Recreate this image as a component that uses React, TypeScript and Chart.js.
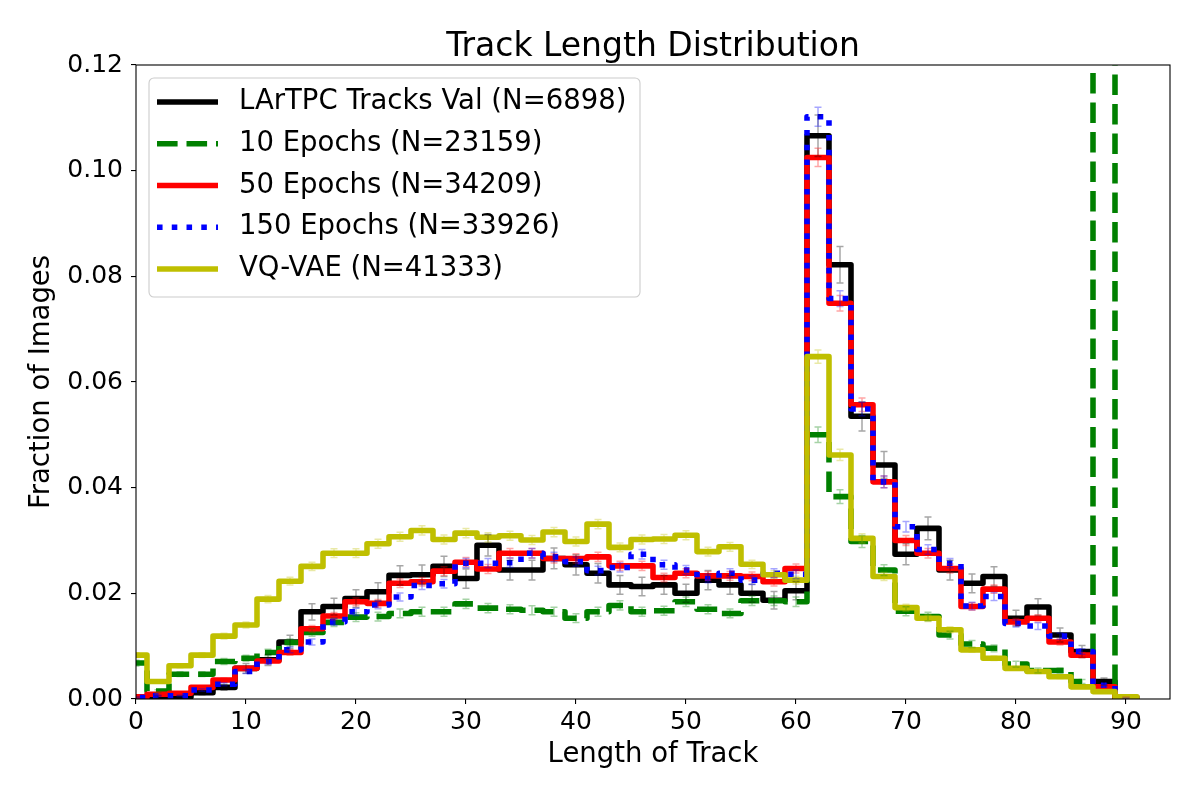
import React, { useEffect, useRef } from 'react';
import Chart from 'chart.js/auto';

// bin centres of the track-length histogram (bins are 2 units wide)
const binCenters = [
  0, 2, 4, 6, 8, 10, 12, 14, 16, 18, 20, 22, 24, 26, 28, 30, 32, 34, 36, 38, 40, 42, 44,
  46, 48, 50, 52, 54, 56, 58, 60, 62, 64, 66, 68, 70, 72, 74, 76, 78, 80, 82, 84, 86, 88, 90,
];
const binWidth = 2;

const chartTitle = 'Track Length Distribution';
const seriesNames = ['LArTPC Tracks Val', '10 Epochs', '50 Epochs', '150 Epochs', 'VQ-VAE'];
const sampleCounts = [6898, 23159, 34209, 33926, 41333];

const valTracks = [
  0.0002, 0.0004, 0.0004, 0.0012, 0.0022, 0.0058, 0.0074, 0.0108, 0.0165, 0.0175,
  0.0190, 0.0203, 0.0234, 0.0235, 0.0251, 0.0228, 0.0291, 0.0244, 0.0244, 0.0266,
  0.0254, 0.0238, 0.0216, 0.0213, 0.0216, 0.0200, 0.0225, 0.0216, 0.0200, 0.0187,
  0.0205, 0.1066, 0.0822, 0.0535, 0.0443, 0.0274, 0.0323, 0.0244, 0.0219, 0.0232,
  0.0153, 0.0174, 0.0121, 0.0090, 0.0033, 0.0000,
];
const epochs10 = [
  0.0068, 0.0015, 0.0047, 0.0047, 0.0071, 0.0077, 0.0088, 0.0107, 0.0126, 0.0145,
  0.0155, 0.0156, 0.0162, 0.0165, 0.0165, 0.0180, 0.0172, 0.0170, 0.0168, 0.0165,
  0.0153, 0.0165, 0.0177, 0.0165, 0.0167, 0.0184, 0.0170, 0.0162, 0.0186, 0.0186,
  0.0184, 0.0500, 0.0383, 0.0298, 0.0244, 0.0166, 0.0156, 0.0121, 0.0104, 0.0096,
  0.0066, 0.0054, 0.0054, 0.0033, 0.3600, 0.0000,
];
const epochs50 = [
  0.0004, 0.0009, 0.0011, 0.0022, 0.0036, 0.0058, 0.0072, 0.0088, 0.0133, 0.0157,
  0.0184, 0.0181, 0.0219, 0.0222, 0.0242, 0.0259, 0.0246, 0.0276, 0.0276, 0.0266,
  0.0266, 0.0269, 0.0252, 0.0252, 0.0230, 0.0238, 0.0233, 0.0233, 0.0232, 0.0222,
  0.0247, 0.1025, 0.0749, 0.0557, 0.0411, 0.0300, 0.0276, 0.0247, 0.0175, 0.0208,
  0.0146, 0.0153, 0.0108, 0.0083, 0.0023, 0.0003,
];
const epochs150 = [
  0.0003, 0.0006, 0.0006, 0.0017, 0.0028, 0.0052, 0.0071, 0.0093, 0.0108, 0.0146,
  0.0165, 0.0178, 0.0193, 0.0215, 0.0218, 0.0257, 0.0257, 0.0258, 0.0276, 0.0269,
  0.0260, 0.0243, 0.0249, 0.0274, 0.0254, 0.0244, 0.0228, 0.0238, 0.0225, 0.0238,
  0.0236, 0.1102, 0.0758, 0.0549, 0.0411, 0.0326, 0.0283, 0.0257, 0.0176, 0.0194,
  0.0143, 0.0138, 0.0119, 0.0090, 0.0026, 0.0002,
];
const vqvae = [
  0.0083, 0.0033, 0.0063, 0.0083, 0.0119, 0.0140, 0.0189, 0.0223, 0.0251, 0.0276,
  0.0276, 0.0294, 0.0307, 0.0319, 0.0302, 0.0314, 0.0306, 0.0309, 0.0301, 0.0316,
  0.0298, 0.0331, 0.0287, 0.0302, 0.0303, 0.0310, 0.0279, 0.0288, 0.0255, 0.0235,
  0.0225, 0.0648, 0.0462, 0.0304, 0.0232, 0.0173, 0.0153, 0.0131, 0.0093, 0.0077,
  0.0058, 0.0052, 0.0042, 0.0023, 0.0014, 0.0004,
];

const xTickStep = 10;
const yTickStep = 0.02;

const seriesValues = [valTracks, epochs10, epochs50, epochs150, vqvae];
const lineColors = ['#000000', '#008000', '#ff0000', '#0000ff', '#bfbf00'];
const errColors = [
  'rgba(0,0,0,0.35)',
  'rgba(0,128,0,0.35)',
  'rgba(255,0,0,0.35)',
  'rgba(0,0,255,0.35)',
  'rgba(191,191,0,0.35)',
];
const LW = 5.56;
const lineDashes = [[], [20.6, 8.9], [], [5.56, 9.2], []];
const FONT = '"DejaVu Sans", sans-serif';

// outline of a step histogram: up from the first edge, across each bin, down at the last edge
function stepPoints(values: number[]) {
  const half = binWidth / 2;
  const pts = [{ x: binCenters[0] - half, y: 0 }];
  values.forEach((v, i) => {
    pts.push({ x: binCenters[i] - half, y: v });
    pts.push({ x: binCenters[i] + half, y: v });
  });
  pts.push({ x: binCenters[binCenters.length - 1] + half, y: 0 });
  return pts;
}

const errorBarPlugin = {
  id: 'errorBars',
  afterDatasetsDraw(chart: any) {
    const { ctx, chartArea, scales } = chart;
    const xs = scales.x;
    const ys = scales.y;
    ctx.save();
    ctx.beginPath();
    ctx.rect(chartArea.left, chartArea.top, chartArea.width, chartArea.height);
    ctx.clip();
    ctx.lineWidth = 1.5;
    seriesValues.forEach((vals, si) => {
      ctx.strokeStyle = errColors[si];
      vals.forEach((v, i) => {
        if (v <= 0) return;
        // poisson uncertainty of a normalised bin
        const err = Math.sqrt(v / sampleCounts[si]);
        const px = xs.getPixelForValue(binCenters[i]);
        const lo = ys.getPixelForValue(v - err);
        const hi = ys.getPixelForValue(v + err);
        ctx.beginPath();
        ctx.moveTo(px, lo);
        ctx.lineTo(px, hi);
        ctx.moveTo(px - 3.5, lo);
        ctx.lineTo(px + 3.5, lo);
        ctx.moveTo(px - 3.5, hi);
        ctx.lineTo(px + 3.5, hi);
        ctx.stroke();
      });
    });
    ctx.restore();

    // spines on top of the lines
    ctx.save();
    ctx.strokeStyle = '#000';
    ctx.lineWidth = 1.1;
    ctx.strokeRect(chartArea.left, chartArea.top, chartArea.width, chartArea.height);
    ctx.restore();
  },
};

// title centred over the axes, legend in the upper left of the axes
const legendPlugin = {
  id: 'insideLegend',
  afterDraw(chart: any) {
    const { ctx, chartArea } = chart;
    ctx.save();
    ctx.fillStyle = '#000';
    ctx.font = `33px ${FONT}`;
    ctx.textAlign = 'center';
    ctx.textBaseline = 'alphabetic';
    ctx.fillText(chartTitle, (chartArea.left + chartArea.right) / 2, chartArea.top - 9);

    const left = chartArea.left + 13;
    const top = chartArea.top + 13;
    ctx.fillStyle = 'rgba(255,255,255,0.8)';
    ctx.strokeStyle = '#cccccc';
    ctx.lineWidth = 1.1;
    ctx.beginPath();
    ctx.roundRect(left, top, 491, 219, 5);
    ctx.fill();
    ctx.stroke();
    chart.data.datasets.forEach((ds: any, i: number) => {
      const yy = top + 24 + i * 41.75;
      ctx.setLineDash(ds.borderDash || []);
      ctx.lineWidth = ds.borderWidth;
      ctx.strokeStyle = ds.borderColor;
      ctx.lineCap = 'butt';
      ctx.beginPath();
      ctx.moveTo(left + 8, yy);
      ctx.lineTo(left + 69, yy);
      ctx.stroke();
      ctx.setLineDash([]);
      ctx.fillStyle = '#000';
      ctx.font = `27.5px ${FONT}`;
      ctx.textBaseline = 'middle';
      ctx.textAlign = 'left';
      ctx.fillText(ds.label, left + 90, yy);
    });
    ctx.restore();
  },
};

const TrackLengthChart: React.FC = () => {
  const chartRef = useRef<Chart<'line'>>();
  const canvasRef = useRef<HTMLCanvasElement>(null);

  useEffect(() => {
    const canvas = canvasRef.current;
    if (!canvas) return;
    if (chartRef.current) chartRef.current.destroy();

    Chart.defaults.font.family = FONT;
    Chart.defaults.color = '#000';

    const datasets = seriesValues.map((vals, i) => ({
      label: `${seriesNames[i]} (N=${sampleCounts[i]})`,
      data: stepPoints(vals),
      borderColor: lineColors[i],
      backgroundColor: lineColors[i],
      borderWidth: LW,
      borderDash: lineDashes[i],
      borderJoinStyle: 'round' as const,
      pointRadius: 0,
      tension: 0,
      fill: false,
      clip: 0,
      order: seriesValues.length - i,
    }));

    chartRef.current = new Chart(canvas, {
      type: 'line',
      data: { datasets },
      options: {
        animation: false,
        responsive: false,
        parsing: false,
        layout: { padding: { top: 65, right: 30, bottom: 0, left: 0 } },
        plugins: {
          legend: { display: false },
          tooltip: { enabled: false },
          title: { display: false },
        },
        scales: {
          x: {
            type: 'linear',
            min: 0,
            max: 94,
            afterFit: (s: any) => {
              s.height = 101;
            },
            afterBuildTicks: (s: any) => {
              s.ticks = s.ticks.filter(
                (t: any) => Math.abs(t.value / xTickStep - Math.round(t.value / xTickStep)) < 1e-6,
              );
            },
            ticks: {
              stepSize: xTickStep,
              color: '#000',
              padding: 3,
              maxRotation: 0,
              font: { size: 25, family: FONT },
            },
            grid: {
              display: true,
              drawOnChartArea: false,
              drawTicks: true,
              tickLength: 5,
              color: '#000',
              lineWidth: 1.1,
            },
            border: { display: false },
            title: {
              display: true,
              text: 'Length of Track',
              color: '#000',
              font: { size: 27.5, family: FONT },
              padding: { top: 4, bottom: 29 },
            },
          },
          y: {
            type: 'linear',
            min: 0,
            max: 0.12,
            afterFit: (s: any) => {
              s.width = 136;
            },
            ticks: {
              stepSize: yTickStep,
              color: '#000',
              padding: 8,
              font: { size: 25, family: FONT },
              callback: (v: any) => Number(v).toFixed(2),
            },
            grid: {
              display: true,
              drawOnChartArea: false,
              drawTicks: true,
              tickLength: 5,
              color: '#000',
              lineWidth: 1.1,
            },
            border: { display: false },
            title: {
              display: true,
              text: 'Fraction of Images',
              color: '#000',
              font: { size: 27.5, family: FONT },
              padding: { top: 25, bottom: 0 },
            },
          },
        },
      },
      plugins: [errorBarPlugin, legendPlugin],
    });

    return () => {
      if (chartRef.current) {
        chartRef.current.destroy();
        chartRef.current = undefined;
      }
    };
  }, []);

  return (
    <div style={{ position: 'absolute', left: 0, top: 0, width: 1200, height: 800, background: '#fff' }}>
      <canvas ref={canvasRef} width={1200} height={800} />
    </div>
  );
};

export default function App() {
  return <TrackLengthChart />;
}
